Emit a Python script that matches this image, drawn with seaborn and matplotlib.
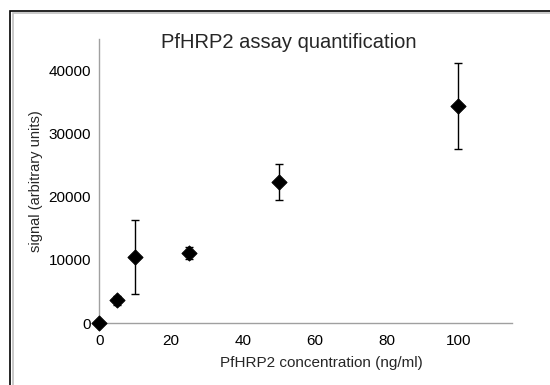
import matplotlib
matplotlib.use("Agg")
import matplotlib.pyplot as plt
import seaborn as sns
import pandas as pd
from matplotlib.patches import Rectangle

# valores
concentracao = [0, 5, 10, 25, 50, 100]
sinal = [0, 3600, 10500, 11100, 22300, 34400]
desvio = [150, 700, 5900, 1000, 2850, 6800]

df = pd.DataFrame({"conc": concentracao, "sinal": sinal, "sd": desvio})

sns.set_style("white")
plt.rcParams["font.family"] = ["Liberation Sans", "DejaVu Sans"]

fig = plt.figure(figsize=(5.5, 3.85), dpi=100)
ax = fig.add_axes([0.1806, 0.161, 0.7504, 0.7377])

ax.errorbar(df["conc"], df["sinal"], yerr=df["sd"], fmt="none",
            ecolor="black", elinewidth=1, capsize=3, capthick=1, zorder=2)
sns.scatterplot(data=df, x="conc", y="sinal", marker="D", s=60,
                color="black", edgecolor="black", ax=ax, zorder=3,
                clip_on=False)

ax.set_xlim(0, 115)
ax.set_ylim(0, 45000)
ax.set_xticks([0, 20, 40, 60, 80, 100])
ax.set_yticks(range(0, 45001, 5000))
ax.set_yticklabels([str(v) if v % 10000 == 0 else "" for v in range(0, 45001, 5000)])

for lado in ["top", "right"]:
    ax.spines[lado].set_visible(False)
for lado in ["left", "bottom"]:
    ax.spines[lado].set_color("#a0a0a0")
    ax.spines[lado].set_linewidth(1)
ax.tick_params(axis="both", direction="out", length=4, width=1, color="#a0a0a0",
               labelsize=11, labelcolor="black")
ax.tick_params(axis="x", pad=4)
ax.tick_params(axis="y", pad=2)

ax.set_xlabel("PfHRP2 concentration (ng/ml)", fontsize=11)
ax.xaxis.set_label_coords((321 - 99.3) / 412.7, -(363 - 323) / 284, transform=ax.transAxes)
ax.xaxis.label.set_va("center")
ax.set_ylabel("signal (arbitrary units)", fontsize=10.5, labelpad=4)

fig.text(289 / 550, 1 - 42 / 385, "PfHRP2 assay quantification",
         ha="center", va="center", fontsize=14.5)

# moldura (só borda superior e esquerda visíveis)
fig.patches.append(Rectangle((9.5 / 550, -0.1), 1.2, 1.1 - 10.5 / 385,
                             transform=fig.transFigure, fill=False,
                             edgecolor="black", linewidth=1.2))
fig.patches.append(Rectangle((12.5 / 550, -0.1), 1.2, 1.1 - 13.5 / 385,
                             transform=fig.transFigure, fill=False,
                             edgecolor="#c0c0c0", linewidth=1.2))

plt.savefig("out.png", dpi=100)
plt.close()
